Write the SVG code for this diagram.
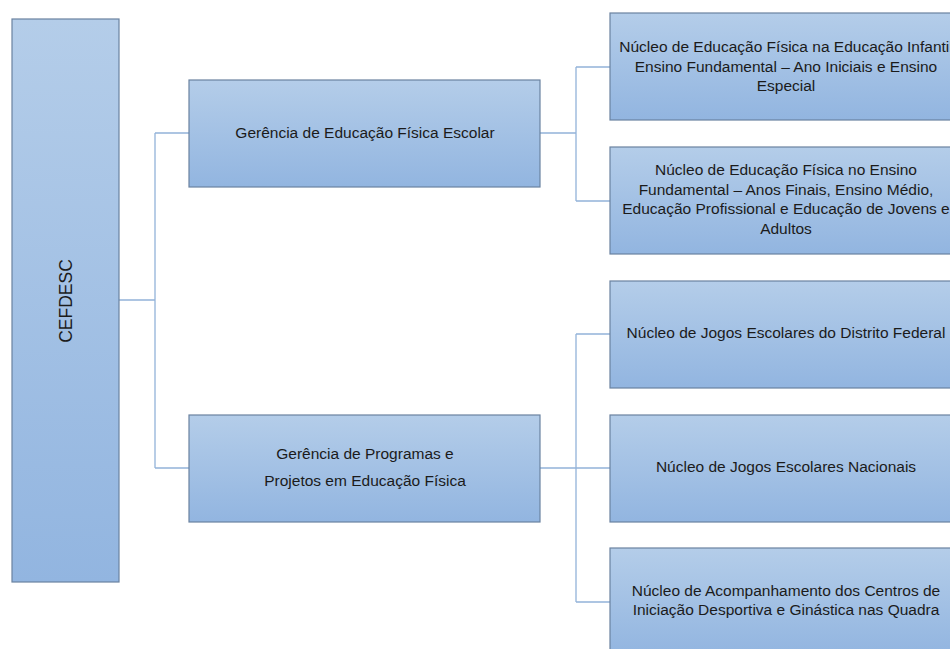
<svg xmlns="http://www.w3.org/2000/svg" width="950" height="649" viewBox="0 0 950 649">
<defs>
<linearGradient id="g" x1="0" y1="0" x2="0" y2="1">
<stop offset="0" stop-color="#b4cde9"/>
<stop offset="1" stop-color="#92b5e0"/>
</linearGradient>
<style>
.box{fill:url(#g);stroke:#6a82a0;stroke-width:1.2}
.t{font-family:"Liberation Sans","Open Sans",sans-serif;font-size:15.5px;fill:#1b1b1b;text-anchor:middle}
.c{fill:none;stroke:#93b3d9;stroke-width:1.3}
</style>
</defs>
<rect width="950" height="649" fill="#fff"/>
<g id="connectors">
<path class="c" d="M119 300H155M155 133V468M155 133H189M155 468H189"/>
<path class="c" d="M540 133H576M576 67V201M576 67H610M576 201H610"/>
<path class="c" d="M540 468H576M576 334V602M576 334H610M576 468H610M576 602H610"/>
</g>
<g id="cefdesc">
<rect class="box" x="12" y="19" width="107" height="563"/>
<text class="t" transform="translate(72 301) rotate(-90)" style="font-size:17.5px">CEFDESC</text>
</g>
<g id="ger1">
<rect class="box" x="189" y="80" width="351" height="107"/>
<text class="t" x="365" y="138">Gerência de Educação Física Escolar</text>
</g>
<g id="ger2">
<rect class="box" x="189" y="415" width="351" height="107"/>
<text class="t" x="365" y="459">Gerência de Programas e</text>
<text class="t" x="365" y="486">Projetos em Educação Física</text>
</g>
<g id="n1">
<rect class="box" x="610" y="13" width="360" height="107"/>
<text class="t" x="786" y="52">Núcleo de Educação Física na Educação Infantil</text>
<text class="t" x="786" y="72">Ensino Fundamental – Ano Iniciais e Ensino</text>
<text class="t" x="786" y="91">Especial</text>
</g>
<g id="n2">
<rect class="box" x="610" y="147" width="360" height="107"/>
<text class="t" x="786" y="175">Núcleo de Educação Física no Ensino</text>
<text class="t" x="786" y="195">Fundamental – Anos Finais, Ensino Médio,</text>
<text class="t" x="786" y="214">Educação Profissional e Educação de Jovens e</text>
<text class="t" x="786" y="234">Adultos</text>
</g>
<g id="n3">
<rect class="box" x="610" y="281" width="360" height="107"/>
<text class="t" x="786" y="338">Núcleo de Jogos Escolares do Distrito Federal</text>
</g>
<g id="n4">
<rect class="box" x="610" y="415" width="360" height="107"/>
<text class="t" x="786" y="472">Núcleo de Jogos Escolares Nacionais</text>
</g>
<g id="n5">
<rect class="box" x="610" y="548" width="360" height="107"/>
<text class="t" x="786" y="596">Núcleo de Acompanhamento dos Centros de</text>
<text class="t" x="786" y="615">Iniciação Desportiva e Ginástica nas Quadra</text>
</g>
</svg>
